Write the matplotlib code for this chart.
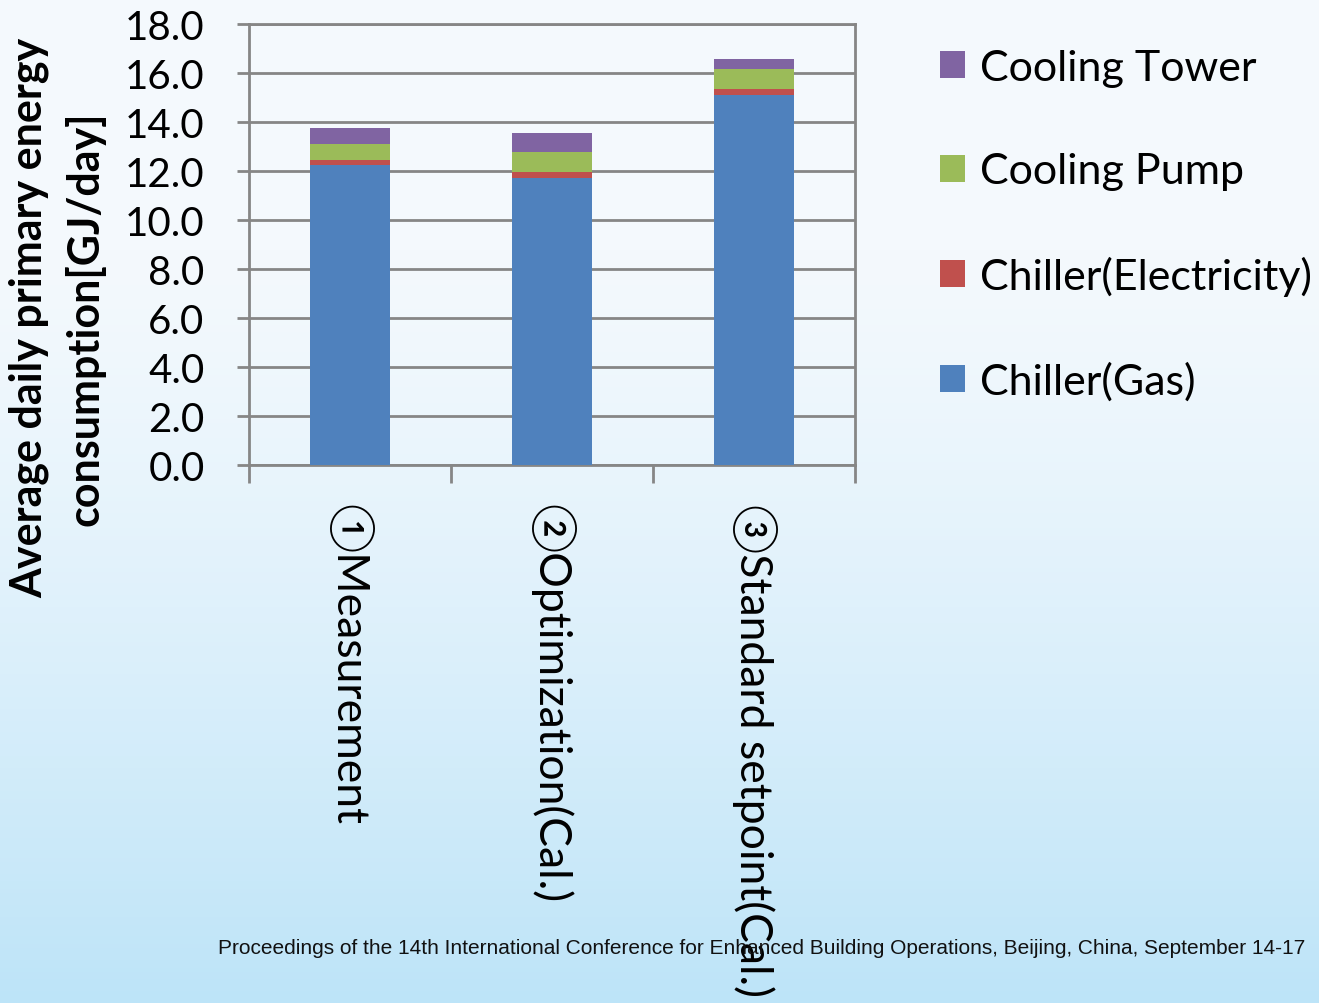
import numpy as np
import matplotlib
matplotlib.use("Agg")
import matplotlib.pyplot as plt
from matplotlib.patches import Patch

# Average daily primary energy consumption per case [GJ/day]
categories = ["①Measurement", "②Optimization(Cal.)", "③Standard setpoint(Cal.)"]
chiller_gas = [12.25, 11.73, 15.12]
chiller_elec = [0.21, 0.21, 0.21]
cooling_pump = [0.64, 0.84, 0.82]
cooling_tower = [0.65, 0.76, 0.41]
series_names = ["Chiller(Gas)", "Chiller(Electricity)", "Cooling Pump", "Cooling Tower"]
series_colors = ["#4F81BD", "#C0504D", "#9BBB59", "#8064A2"]
y_ticks = [0.0, 2.0, 4.0, 6.0, 8.0, 10.0, 12.0, 14.0, 16.0, 18.0]

W, H = 1319, 1004
fig = plt.figure(figsize=(W / 100, H / 100), dpi=100)

# slide-style background: pale at top fading into light blue at the bottom
bg = fig.add_axes([0, 0, 1, 1], zorder=-10)
t = np.linspace(0, 1, 256)[:, None]
prof = np.clip((t - 0.25) / 0.75, 0, 1) ** 1.3
top = np.array([244, 249, 253]) / 255
bot = np.array([189, 228, 248]) / 255
grad = top[None, None, :] * (1 - prof[..., None]) + bot[None, None, :] * prof[..., None]
grad = np.repeat(grad, 4, axis=1)
bg.imshow(grad, aspect="auto", extent=[0, 1, 0, 1], origin="upper")
bg.axis("off")

font = ["Lato", "Noto Sans CJK JP", "DejaVu Sans"]
plt.rcParams["font.family"] = font

ax_l, ax_r, ax_t, ax_b = 249, 855, 25, 466
ax = fig.add_axes([ax_l / W, 1 - ax_b / H, (ax_r - ax_l) / W, (ax_b - ax_t) / H])
ax.patch.set_alpha(0)

x = np.arange(len(categories))
stacks = [chiller_gas, chiller_elec, cooling_pump, cooling_tower]
bottom = np.zeros(len(categories))
for vals, col in zip(stacks, series_colors):
    ax.bar(x, vals, width=0.4, bottom=bottom, color=col, zorder=3)
    bottom += np.array(vals)

ax.set_xlim(-0.5, len(categories) - 0.5)
ax.set_ylim(0, 18)
ax.set_yticks(y_ticks)
ax.set_yticklabels([f"{v:.1f}" for v in y_ticks], fontsize=29)
ax.yaxis.grid(True, color="#868686", linewidth=2, zorder=0)
ax.tick_params(axis="y", length=9, width=2, color="#868686", pad=23)

# category boundaries carry the tick marks, labels sit at bar centres
ax.set_xticks(np.arange(len(categories) + 1) - 0.5)
ax.set_xticklabels([])
ax.tick_params(axis="x", length=13, width=2, color="#868686")
for xi, lab in zip(x, categories):
    ax.text(xi, -1.55, lab, rotation=-90, ha="center", va="top", fontsize=32,
            family=font, transform=ax.transData, clip_on=False)

for s in ax.spines.values():
    s.set_color("#868686")
    s.set_linewidth(2)

ax.set_ylabel("Average daily primary energy\nconsumption[GJ/day]", fontsize=31,
              fontweight="bold", linespacing=1.45)
ax.yaxis.set_label_coords(-0.236, 0.335)

handles = [Patch(facecolor=c, edgecolor="none") for c in series_colors][::-1]
fig.legend(handles, series_names[::-1], loc="upper left",
           bbox_to_anchor=(940 / W, 1 - 50 / H), frameon=False, fontsize=31,
           handlelength=0.58, handleheight=0.58, handletextpad=0.35,
           labelspacing=1.52, borderaxespad=0, borderpad=0)

fig.text(218 / W, 1 - 948 / H,
         "Proceedings of the 14th International Conference for Enhanced Building Operations, "
         "Beijing, China, September 14-17",
         ha="left", va="center", fontsize=15.0, family="Liberation Sans", color="#111111")

fig.savefig("out.png", dpi=100)
